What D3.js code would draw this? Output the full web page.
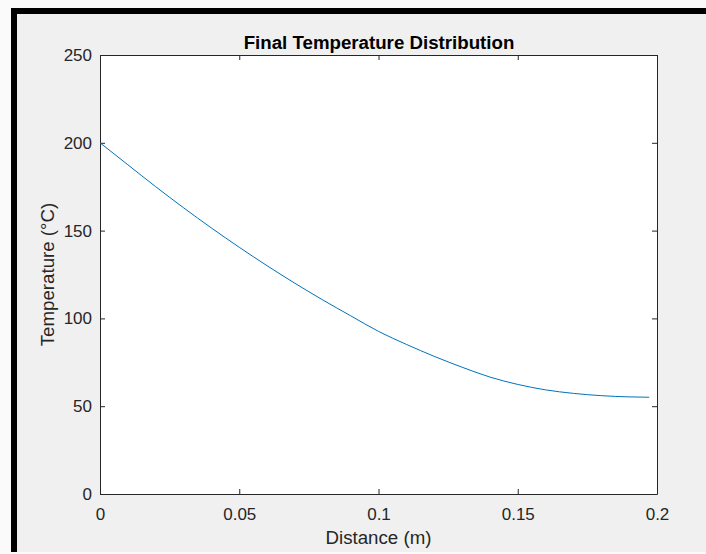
<!DOCTYPE html>
<html>
<head>
<meta charset="utf-8">
<script src="https://cdn.jsdelivr.net/npm/d3@7"></script>
<style>
  html, body { margin: 0; padding: 0; background: #fff; }
  svg { display: block; }
  text { font-family: "Liberation Sans", Arial, sans-serif; fill: #262626; }
</style>
</head>
<body>
<svg id="chart" width="706" height="554"></svg>
<script>
// values
const distance = [0, 0.01, 0.02, 0.03, 0.04, 0.05, 0.06, 0.07, 0.08, 0.09, 0.10,
  0.11, 0.12, 0.13, 0.14, 0.15, 0.16, 0.17, 0.18, 0.19, 0.1972];
const temperature = [200, 187.5, 175, 163, 151.5, 140.5, 130, 120, 110.5, 101.5, 92.6,
  85.2, 78.4, 72.2, 66.6, 62.4, 59.3, 57.3, 56.0, 55.3, 55.1];
const xTicks = [0, 0.05, 0.1, 0.15, 0.2];
const yTicks = [0, 50, 100, 150, 200, 250];

const svg = d3.select('#chart');

// window frame (black border on top and left, grey figure background)
svg.append('rect').attr('x', 0).attr('y', 0).attr('width', 706).attr('height', 554).attr('fill', '#fafafa');
svg.append('rect').attr('x', 11).attr('y', 8).attr('width', 695).attr('height', 544).attr('fill', '#000');
svg.append('rect').attr('x', 17).attr('y', 14).attr('width', 689).attr('height', 538).attr('fill', '#f0f0f0');

const plotLeft = 100, plotRight = 657, plotTop = 55, plotBottom = 494;

const x = d3.scaleLinear().domain([0, 0.2]).range([plotLeft, plotRight]);
const y = d3.scaleLinear().domain([0, 250]).range([plotBottom, plotTop]);

svg.append('rect')
  .attr('x', plotLeft).attr('y', plotTop)
  .attr('width', plotRight - plotLeft).attr('height', plotBottom - plotTop)
  .attr('fill', '#fff');

const fmt = (d) => (d === 0 ? '0' : String(d));

// axes, ticks pointing inwards, box on
const styleAxis = (g) => {
  g.select('.domain').attr('stroke', '#262626');
  g.selectAll('.tick line').attr('stroke', '#262626');
  g.selectAll('.tick text').attr('fill', '#262626').style('font-size', '17px')
    .style('font-family', '"Liberation Sans", Arial, sans-serif');
};

svg.append('g')
  .attr('transform', `translate(0,${plotBottom})`)
  .call(d3.axisBottom(x).tickValues(xTicks).tickFormat(fmt).tickSizeInner(-5).tickSizeOuter(0).tickPadding(14))
  .call(styleAxis);

svg.append('g')
  .attr('transform', `translate(0,${plotTop})`)
  .call(d3.axisTop(x).tickValues(xTicks).tickFormat('').tickSizeInner(-5).tickSizeOuter(0))
  .call(styleAxis);

svg.append('g')
  .attr('transform', `translate(${plotLeft},0)`)
  .call(d3.axisLeft(y).tickValues(yTicks).tickFormat(fmt).tickSizeInner(-5).tickSizeOuter(0).tickPadding(8))
  .call(styleAxis);

svg.append('g')
  .attr('transform', `translate(${plotRight},0)`)
  .call(d3.axisRight(y).tickValues(yTicks).tickFormat('').tickSizeInner(-5).tickSizeOuter(0))
  .call(styleAxis);

svg.selectAll('.domain').attr('stroke-width', 1);

// the line
const line = d3.line()
  .x((d, i) => x(distance[i]))
  .y((d) => y(d))
  .curve(d3.curveMonotoneX);

svg.append('path')
  .datum(temperature)
  .attr('d', line)
  .attr('fill', 'none')
  .attr('stroke', '#0072BD')
  .attr('stroke-width', 1);

// labels
svg.append('text')
  .attr('x', 379).attr('y', 49)
  .attr('text-anchor', 'middle')
  .style('font-size', '18.7px').style('font-weight', 'bold')
  .style('fill', '#000')
  .text('Final Temperature Distribution');

svg.append('text')
  .attr('x', (plotLeft + plotRight) / 2).attr('y', 544)
  .attr('text-anchor', 'middle')
  .style('font-size', '18.7px')
  .text('Distance (m)');

svg.append('text')
  .attr('transform', `translate(54,${(plotTop + plotBottom) / 2}) rotate(-90)`)
  .attr('text-anchor', 'middle')
  .style('font-size', '18.7px')
  .text('Temperature (°C)');
</script>
</body>
</html>
